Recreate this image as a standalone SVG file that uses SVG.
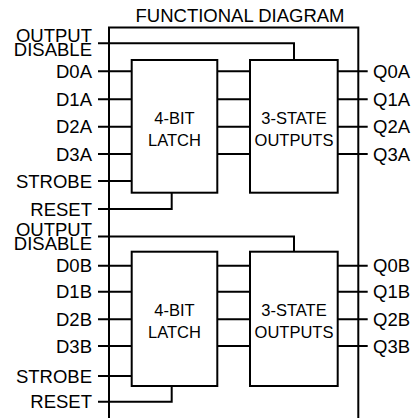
<svg xmlns="http://www.w3.org/2000/svg" width="415" height="418" viewBox="0 0 415 418">
<style>
.ln{fill:none;stroke:#000;stroke-width:2;stroke-linecap:square}
.bx{fill:#fff;stroke:#000;stroke-width:2}
text{font-family:"Liberation Sans",Arial,Helvetica,sans-serif;fill:#000}
.lbl{font-size:18.5px}
.in{text-anchor:end}
.bt{font-size:16.5px;text-anchor:middle}
.ttl{font-size:18.5px;text-anchor:middle}
</style>
<rect width="415" height="418" fill="#fff"/>
<g id="title"><text class="ttl" x="240" y="22">FUNCTIONAL DIAGRAM</text></g>
<g id="package"><path class="ln" d="M109,420 V27.5 H358.3 V420"/></g>
<g id="connectors">
<path class="ln" d="M99,43.3 H294 V60"/>
<path class="ln" d="M99,71.3 H131.7 M99,99.3 H131.7 M99,126.7 H131.7 M99,154 H131.7 M99,181 H131.7"/>
<path class="ln" d="M99,209 H171.7 V192.7"/>
<path class="ln" d="M217.3,71.3 H250 M217.3,99.3 H250 M217.3,126.7 H250 M217.3,154 H250"/>
<path class="ln" d="M337.7,71.3 H366.7 M337.7,99.3 H366.7 M337.7,126.7 H366.7 M337.7,154 H366.7"/>
<path class="ln" d="M99,236.5 H294 V251.7"/>
<path class="ln" d="M99,265.7 H131.7 M99,291.7 H131.7 M99,319.3 H131.7 M99,346 H131.7 M99,376 H131.7"/>
<path class="ln" d="M99,401.7 H171.7 V386"/>
<path class="ln" d="M217.3,265.7 H250 M217.3,291.7 H250 M217.3,319.3 H250 M217.3,346 H250"/>
<path class="ln" d="M337.7,265.7 H366.7 M337.7,291.7 H366.7 M337.7,319.3 H366.7 M337.7,346 H366.7"/>
</g>
<g id="latchA"><rect class="bx" x="131.7" y="60" width="85.6" height="132.7"/><text class="bt" x="174.5" y="124">4-BIT</text><text class="bt" x="174.5" y="146">LATCH</text></g>
<g id="outputsA"><rect class="bx" x="250" y="60" width="87.7" height="132.7"/><text class="bt" x="294" y="124">3-STATE</text><text class="bt" x="294" y="146">OUTPUTS</text></g>
<g id="latchB"><rect class="bx" x="131.7" y="251.7" width="85.6" height="134.3"/><text class="bt" x="174.5" y="315.7">4-BIT</text><text class="bt" x="174.5" y="338">LATCH</text></g>
<g id="outputsB"><rect class="bx" x="250" y="251.7" width="87.7" height="134.3"/><text class="bt" x="294" y="315.7">3-STATE</text><text class="bt" x="294" y="338">OUTPUTS</text></g>
<g id="pinsA" class="lbl">
<text class="in" x="92" y="41.5">OUTPUT</text><text class="in" x="92" y="55.5">DISABLE</text>
<text class="in" x="92" y="78">D0A</text><text class="in" x="92" y="106">D1A</text><text class="in" x="92" y="133.4">D2A</text><text class="in" x="92" y="160.7">D3A</text>
<text class="in" x="92" y="187.7">STROBE</text><text class="in" x="92" y="215.7">RESET</text>
<text x="373" y="78">Q0A</text><text x="373" y="106">Q1A</text><text x="373" y="133.4">Q2A</text><text x="373" y="160.7">Q3A</text>
</g>
<g id="pinsB" class="lbl">
<text class="in" x="92" y="235.5">OUTPUT</text><text class="in" x="92" y="250">DISABLE</text>
<text class="in" x="92" y="272.4">D0B</text><text class="in" x="92" y="298.4">D1B</text><text class="in" x="92" y="326">D2B</text><text class="in" x="92" y="352.7">D3B</text>
<text class="in" x="92" y="382.7">STROBE</text><text class="in" x="92" y="408.4">RESET</text>
<text x="373" y="272.4">Q0B</text><text x="373" y="298.4">Q1B</text><text x="373" y="326">Q2B</text><text x="373" y="352.7">Q3B</text>
</g>
</svg>
